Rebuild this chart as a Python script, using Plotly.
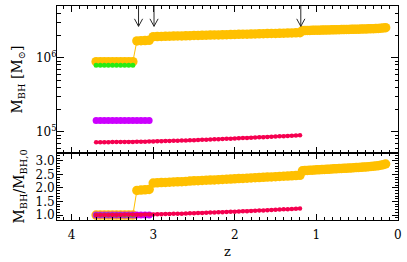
import plotly.graph_objects as go

# snapshot redshifts
z_snap = [3.70, 3.65, 3.60, 3.55, 3.50, 3.45, 3.40, 3.35, 3.30, 3.25,
          3.20, 3.15, 3.10, 3.05, 3.00, 2.95, 2.90, 2.85, 2.80, 2.75,
          2.70, 2.65, 2.60, 2.55, 2.50, 2.45, 2.40, 2.35, 2.30, 2.25,
          2.20, 2.15, 2.10, 2.05, 2.00, 1.95, 1.90, 1.85, 1.80, 1.75,
          1.70, 1.65, 1.60, 1.55, 1.50, 1.45, 1.40, 1.35, 1.30, 1.25,
          1.20, 1.17, 1.14, 1.11, 1.08, 1.05, 1.02, 0.99, 0.96, 0.93,
          0.90, 0.87, 0.84, 0.81, 0.78, 0.75, 0.72, 0.69, 0.66, 0.63,
          0.60, 0.57, 0.54, 0.51, 0.48, 0.45, 0.42, 0.39, 0.36, 0.33,
          0.30, 0.27, 0.24, 0.21, 0.18, 0.15]

# orange BH mass [1e6 Msun]
m_orange = [0.885, 0.885, 0.885, 0.885, 0.885, 0.885, 0.885, 0.885, 0.885, 0.885,
            1.690, 1.700, 1.710, 1.720, 1.930, 1.938, 1.945, 1.951, 1.957, 1.963,
            1.969, 1.975, 1.982, 1.992, 2.002, 2.008, 2.014, 2.020, 2.026, 2.032,
            2.039, 2.046, 2.053, 2.060, 2.067, 2.074, 2.081, 2.088, 2.095, 2.102,
            2.109, 2.116, 2.123, 2.130, 2.137, 2.144, 2.151, 2.158, 2.166, 2.174,
            2.182, 2.330, 2.336, 2.341, 2.346, 2.350, 2.355, 2.360, 2.364, 2.369,
            2.373, 2.378, 2.382, 2.387, 2.391, 2.396, 2.400, 2.405, 2.409, 2.414,
            2.418, 2.423, 2.428, 2.433, 2.438, 2.443, 2.449, 2.455, 2.461, 2.468,
            2.476, 2.485, 2.496, 2.510, 2.528, 2.550]

# green BH mass [1e6 Msun] (first 10 snapshots)
m_green = [0.790, 0.790, 0.790, 0.790, 0.790, 0.790, 0.790, 0.790, 0.790, 0.790]

# magenta BH mass [1e6 Msun] (first 14 snapshots)
m_magenta = [0.142, 0.142, 0.142, 0.142, 0.142, 0.142, 0.142, 0.142, 0.142, 0.142,
             0.142, 0.142, 0.142, 0.142]

# red BH mass [1e4 Msun] (first 51 snapshots)
m_red = [7.20, 7.21, 7.22, 7.23, 7.24, 7.25, 7.26, 7.27, 7.28, 7.29,
         7.30, 7.32, 7.34, 7.36, 7.38, 7.41, 7.44, 7.47, 7.50, 7.53,
         7.56, 7.59, 7.62, 7.66, 7.70, 7.74, 7.78, 7.82, 7.86, 7.90,
         7.94, 7.98, 8.02, 8.06, 8.10, 8.15, 8.20, 8.25, 8.30, 8.35,
         8.40, 8.45, 8.50, 8.55, 8.60, 8.66, 8.72, 8.78, 8.84, 8.90,
         8.96]

# merger redshifts marked by arrows
z_arrows = [3.18, 2.99, 1.19]

x_ticks = [4, 3, 2, 1, 0]
y_ratio_ticks = [1.0, 1.5, 2.0, 2.5, 3.0]
y_mass_ticks = [1e5, 1e6]
y_mass_ticktext = ["10<sup>5</sup>", "10<sup>6</sup>"]

series = [
    dict(m=[v * 1e6 for v in m_orange], color="rgb(255,192,0)", size=9.5, lw=1),
    dict(m=[v * 1e6 for v in m_magenta], color="rgb(204,0,255)", size=7, lw=1),
    dict(m=[v * 1e6 for v in m_green], color="rgb(40,235,20)", size=5, lw=1),
    dict(m=[v * 1e4 for v in m_red], color="rgb(245,0,80)", size=4.5, lw=2.5),
]

fig = go.Figure()
for s in series:
    zz = z_snap[:len(s["m"])]
    ratio = [v / s["m"][0] for v in s["m"]]
    for xa, ya, yy in (("x2", "y2", s["m"]), ("x", "y", ratio)):
        fig.add_trace(go.Scatter(
            x=zz, y=yy, xaxis=xa, yaxis=ya, mode="lines+markers",
            line=dict(color=s["color"], width=s["lw"]),
            marker=dict(color=s["color"], size=s["size"], line=dict(width=0)),
            showlegend=False, hoverinfo="skip"))

# arrows (paper y from top border downward)
shapes = []
for za in z_arrows:
    shapes.append(dict(type="path", xref="x", yref="paper",
                       path=f"M {za},1.0 L {za},0.905 M {za-0.05},0.94 L {za},0.905 L {za+0.05},0.94",
                       line=dict(color="rgb(40,40,40)", width=1)))

font = dict(family="DejaVu Serif", size=12, color="black")
ax_common = dict(showline=True, linecolor="black", linewidth=1, mirror="ticks",
                 ticks="inside", tickcolor="black", showgrid=False, zeroline=False)
split = 0.3136
xr = [4.18, -0.002]
xminor = dict(dtick=0.1, tick0=0, ticklen=3, ticks="inside", tickcolor="black")

fig.update_layout(
    width=407, height=262,
    margin=dict(l=57, r=9, t=5, b=37),
    paper_bgcolor="white", plot_bgcolor="white",
    font=font, shapes=shapes,
    xaxis=dict(domain=[0, 1], anchor="y", range=xr, tickvals=x_ticks,
               ticktext=[str(v) for v in x_ticks], ticklen=6, ticklabelstandoff=4,
               ticklabeloverflow="allow", minor=xminor,
               title=dict(text="z", standoff=5, font=dict(size=13)), **ax_common),
    xaxis2=dict(domain=[0, 1], anchor="y2", range=xr, tickvals=x_ticks,
                showticklabels=False, ticklen=6, minor=xminor, **ax_common),
    yaxis=dict(domain=[0, split], anchor="x", range=[0.82, 3.29], tickvals=y_ratio_ticks,
               ticktext=[f"{v:.1f}" for v in y_ratio_ticks], ticklen=6,
               ticklabelstandoff=-1,
               minor=dict(dtick=0.1, tick0=0, ticklen=3, ticks="inside", tickcolor="black"),
               title=dict(text="M<sub>BH</sub>/M<sub>BH,0</sub>", standoff=7), **ax_common),
    yaxis2=dict(domain=[split, 1], anchor="x2", type="log", range=[4.714, 6.70],
                tickvals=y_mass_ticks, ticktext=y_mass_ticktext, ticklen=7,
                ticklabelstandoff=-3,
                minor=dict(tickvals=[6e4, 7e4, 8e4, 9e4, 2e5, 3e5, 4e5, 5e5, 6e5, 7e5, 8e5, 9e5,
                                     2e6, 3e6, 4e6, 5e6],
                           ticklen=3.5, ticks="inside", tickcolor="black"),
                title=dict(text="M<sub>BH</sub> [M<sub>⊙</sub>]", standoff=10), **ax_common),
)

fig.write_html("out.html", config={"displayModeBar": False},
               post_script="document.body.style.margin='0';document.body.style.overflow='hidden';")
